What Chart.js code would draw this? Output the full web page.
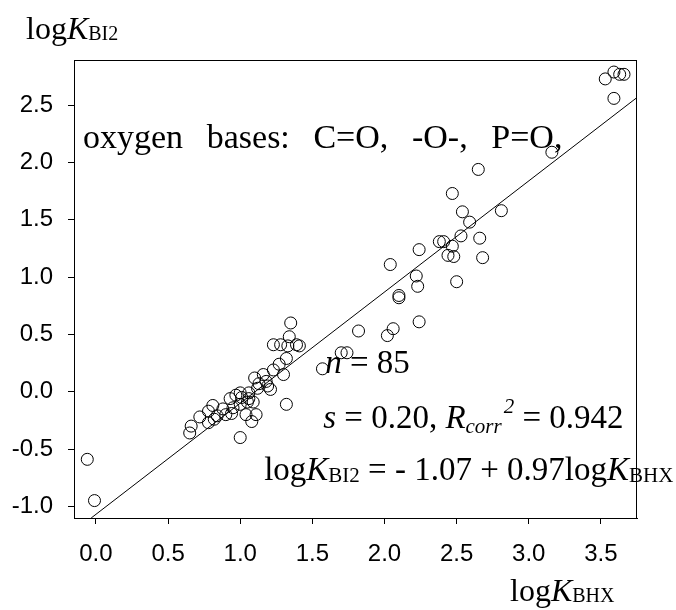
<!DOCTYPE html>
<html>
<head>
<meta charset="utf-8">
<script src="https://cdn.jsdelivr.net/npm/chart.js@4.4.1/dist/chart.umd.min.js"></script>
<style>
  html, body { margin: 0; padding: 0; background: #ffffff; }
  canvas { display: block; }
</style>
</head>
<body>
<canvas id="chart" width="676" height="610"></canvas>
<script>
// Hydrogen-bond basicity (logK_BHX) against iodine complexation (logK_BI2), oxygen bases
const logKBHX = [
  -0.06, -0.01, 0.65, 0.66, 0.72, 0.78, 0.78, 0.81, 0.82, 0.84,
  0.88, 0.90, 0.93, 0.94, 0.95, 0.97, 1.00, 1.00, 1.01, 1.00,
  1.04, 1.05, 1.06, 1.08, 1.09, 1.11, 1.06, 1.10, 1.12, 1.13,
  1.16, 1.18, 1.19, 1.21, 1.23, 1.23, 1.27, 1.28, 1.30, 1.32,
  1.32, 1.33, 1.34, 1.35, 1.39, 1.41, 1.57, 1.70, 1.74, 1.82,
  2.02, 2.06, 2.10, 2.10, 2.24, 2.04, 2.22, 2.23, 2.24, 2.38,
  2.41, 2.44, 2.47, 2.48, 2.50, 2.47, 2.53, 2.54, 2.59, 2.65,
  2.66, 2.68, 2.81, 3.16, 3.53, 3.59, 3.63, 3.66, 3.59
];
const logKBI2 = [
  -0.59, -0.95, -0.36, -0.30, -0.22, -0.27, -0.17, -0.12, -0.24, -0.21,
  -0.15, -0.20, -0.06, -0.19, -0.14, -0.03, -0.01, -0.40, -0.05, -0.11,
  -0.20, -0.09, -0.06, -0.26, -0.09, -0.20, -0.01, 0.12, 0.03, 0.07,
  0.15, 0.09, 0.05, 0.02, 0.19, 0.41, 0.24, 0.41, 0.15, -0.11,
  0.29, 0.40, 0.48, 0.60, 0.41, 0.40, 0.20, 0.34, 0.34, 0.53,
  0.49, 0.55, 0.82, 0.84, 0.61, 1.11, 1.01, 0.92, 1.24, 1.31,
  1.31, 1.19, 1.27, 1.18, 0.96, 1.73, 1.36, 1.57, 1.48, 1.94,
  1.34, 1.17, 1.58, 2.09, 2.73, 2.79, 2.77, 2.77, 2.56
];
const xTicks = [0.0, 0.5, 1.0, 1.5, 2.0, 2.5, 3.0, 3.5];
const yTicks = [-1.0, -0.5, 0.0, 0.5, 1.0, 1.5, 2.0, 2.5];
const xRange = [-0.152, 3.75];
const yRange = [-1.102, 2.895];

// Regression: logK_BI2 = -1.07 + 0.97 logK_BHX
const fitIntercept = -1.07;
const fitSlope = 0.97;

const points = logKBHX.map((x, i) => ({ x: x, y: logKBI2[i] }));
const fitStartX = Math.max(xRange[0], (yRange[0] - fitIntercept) / fitSlope);
const fitEndX = xRange[1];
const fitLine = [fitStartX, fitEndX].map(x => ({ x: x, y: fitIntercept + fitSlope * x }));

const SERIF = '"Liberation Serif", "Times New Roman", serif';

// Draw a run of text pieces (different sizes / italics / offsets) from a starting point
function drawRich(ctx, x, y, parts) {
  let cx = x;
  for (const p of parts) {
    ctx.font = (p.italic ? 'italic ' : '') + p.size + 'px ' + SERIF;
    ctx.fillText(p.t, cx, y + (p.dy || 0));
    cx += ctx.measureText(p.t).width + (p.gap || 0);
  }
}

const annotations = {
  id: 'annotations',
  afterDraw(chart) {
    const ctx = chart.ctx;
    const area = chart.chartArea;
    const xs = chart.scales.x, ys = chart.scales.y;
    ctx.save();

    // frame around the plotting region
    ctx.strokeStyle = '#000';
    ctx.lineWidth = 1;
    ctx.strokeRect(Math.round(area.left) + 0.5, Math.round(area.top) + 0.5,
                   Math.round(area.right - area.left) - 1, Math.round(area.bottom - area.top));

    ctx.fillStyle = '#000';
    ctx.textBaseline = 'alphabetic';
    ctx.textAlign = 'left';

    // axis titles
    drawRich(ctx, 26, 39, [
      { t: 'log', size: 32 },
      { t: 'K', size: 32, italic: true },
      { t: 'BI2', size: 20, dy: 1 }
    ]);
    drawRich(ctx, 510, 601, [
      { t: 'log', size: 32 },
      { t: 'K', size: 32, italic: true },
      { t: 'BHX', size: 20, dy: 1 }
    ]);

    // heading inside the plot, words evenly spread between two data-x anchors
    const headingWords = ['oxygen', 'bases:', 'C=O,', '-O-,', 'P=O,'];
    ctx.font = '34px ' + SERIF;
    const hx0 = xs.getPixelForValue(-0.0895);
    const hx1 = xs.getPixelForValue(3.233);
    const wordsWidth = headingWords.reduce((s, w) => s + ctx.measureText(w).width, 0);
    const gap = (hx1 - hx0 - wordsWidth) / (headingWords.length - 1);
    const hy = ys.getPixelForValue(2.13);
    let hx = hx0;
    for (const w of headingWords) {
      ctx.fillText(w, hx, hy);
      hx += ctx.measureText(w).width + gap;
    }

    // fit statistics
    drawRich(ctx, xs.getPixelForValue(1.589), ys.getPixelForValue(0.166), [
      { t: 'n', size: 33, italic: true },
      { t: ' = 85', size: 33 }
    ]);
    drawRich(ctx, xs.getPixelForValue(1.575), ys.getPixelForValue(-0.314), [
      { t: 's', size: 33, italic: true },
      { t: ' = 0.20, ', size: 33 },
      { t: 'R', size: 33, italic: true },
      { t: 'corr', size: 21, italic: true, dy: 5, gap: 2 },
      { t: '2', size: 21, italic: true, dy: -15 },
      { t: ' = 0.942', size: 33 }
    ]);
    drawRich(ctx, xs.getPixelForValue(1.166), ys.getPixelForValue(-0.767), [
      { t: 'log', size: 33 },
      { t: 'K', size: 33, italic: true },
      { t: 'BI2', size: 21, dy: 2 },
      { t: ' = - 1.07 + 0.97', size: 33 },
      { t: 'log', size: 33 },
      { t: 'K', size: 33, italic: true },
      { t: 'BHX', size: 21, dy: 2 }
    ]);
    ctx.restore();
  }
};

const tickFont = { family: '"Liberation Sans", Arial, sans-serif', size: 24 };

new Chart(document.getElementById('chart'), {
  type: 'scatter',
  data: {
    datasets: [
      {
        label: 'oxygen bases',
        data: points,
        pointStyle: 'circle',
        pointRadius: 6,
        pointBorderWidth: 1,
        pointBorderColor: '#000',
        pointBackgroundColor: 'rgba(255,255,255,0)',
        showLine: false
      },
      {
        label: 'fit',
        type: 'line',
        data: fitLine,
        borderColor: '#000',
        borderWidth: 1,
        pointRadius: 0,
        fill: false
      }
    ]
  },
  options: {
    responsive: false,
    animation: false,
    layout: { padding: { top: 60, right: 39, left: 0, bottom: 0 } },
    plugins: { legend: { display: false }, tooltip: { enabled: false } },
    scales: {
      x: {
        type: 'linear',
        min: xRange[0],
        max: xRange[1],
        afterFit(scale) { scale.height = 92; },
        afterBuildTicks(scale) { scale.ticks = xTicks.map(v => ({ value: v })); },
        ticks: {
          color: '#000',
          font: tickFont,
          padding: 16,
          maxRotation: 0,
          callback: v => Number(v).toFixed(1)
        },
        grid: { drawOnChartArea: false, drawTicks: true, tickLength: 6, tickColor: '#000', tickWidth: 1 },
        border: { display: true, color: '#000', width: 1 }
      },
      y: {
        type: 'linear',
        min: yRange[0],
        max: yRange[1],
        afterFit(scale) { scale.width = 74; },
        afterBuildTicks(scale) { scale.ticks = yTicks.map(v => ({ value: v })); },
        ticks: {
          color: '#000',
          font: tickFont,
          padding: 15,
          callback: v => Number(v).toFixed(1)
        },
        grid: { drawOnChartArea: false, drawTicks: true, tickLength: 6, tickColor: '#000', tickWidth: 1 },
        border: { display: true, color: '#000', width: 1 }
      }
    }
  },
  plugins: [annotations]
});
</script>
</body>
</html>
